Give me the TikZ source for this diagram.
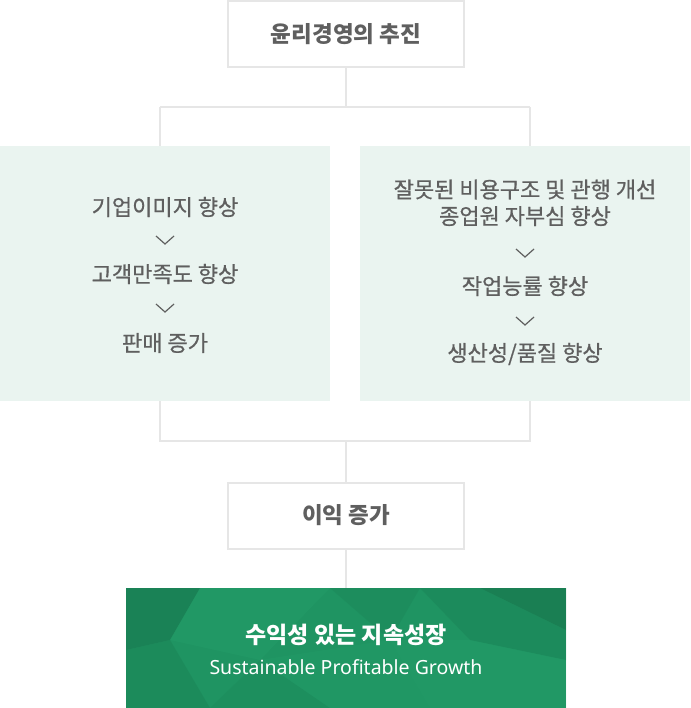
\documentclass[tikz,border=0pt]{standalone}
\usepackage{fontspec}
\setmainfont{Noto Sans CJK KR}
\newfontfamily\medfont[FakeBold=0.7]{Noto Sans CJK KR}
\newfontfamily\latinfont{Noto Sans}
\definecolor{linegray}{HTML}{E6E6E6}
\definecolor{panelbg}{HTML}{EAF4F0}
\definecolor{txtgray}{HTML}{5F5F5F}
\definecolor{gbase}{HTML}{1F9462}
\definecolor{gdark}{HTML}{166E48}
\definecolor{gmid}{HTML}{1B8457}
\definecolor{glight}{HTML}{25A06B}
\tikzset{
  conn/.style={draw=linegray, line width=2pt},
  whitebox/.style={draw=linegray, line width=2pt, fill=white, minimum width=236pt, minimum height=66pt, inner sep=0pt, text=txtgray, font=\fontsize{22.5}{26}\selectfont\bfseries},
  panel/.style={fill=panelbg, draw=none, minimum width=330pt, minimum height=255pt, inner sep=0pt},
  ptext/.style={text=txtgray, font=\medfont\fontsize{22}{26}\selectfont, inner sep=0pt, align=center},
  chev/.style={draw=txtgray, line width=1.2pt},
}
\begin{document}
\begin{tikzpicture}[x=1pt,y=-1pt]
\useasboundingbox (0,0) rectangle (690,708);
% panels
\node[panel] (lp) at (165,273.5) {};
\node[panel] (rp) at (525,273.5) {};
% top box
\node[whitebox] (top) at (346,34) {윤리경영의 추진};
% connectors top
\coordinate (tj) at (346,107);
\coordinate (tl) at (160,107);
\coordinate (tr) at (530,107);
\draw[conn] (top.south) -- (tj);
\draw[conn] (tl) -- (tr);
\draw[conn] (tl) -- (tl |- lp.north);
\draw[conn] (tr) -- (tr |- rp.north);
% left panel texts
\node[ptext] (l1) at (165,207) {기업이미지 향상};
\node[ptext] (l2) at (165,274) {고객만족도 향상};
\node[ptext] (l3) at (165,343) {판매 증가};
\draw[chev] (156,236) -- (165,244) -- (174,236);
\draw[chev] (156,304) -- (165,312) -- (174,304);
% right panel texts
\node[ptext] (r1) at (525,189.5) {잘못된 비용구조 및 관행 개선};
\node[ptext] (r1b) at (525,216) {종업원 자부심 향상};
\node[ptext] (r2) at (525,286) {작업능률 향상};
\node[ptext] (r3) at (525,354) {생산성/품질 향상};
\draw[chev] (516,249) -- (525,257) -- (534,249);
\draw[chev] (516,317) -- (525,325) -- (534,317);
% bottom connectors
\coordinate (bl) at (160,441);
\coordinate (br) at (530,441);
\coordinate (bj) at (346,441);
\draw[conn] (bl |- lp.south) -- (bl) -- (br) -- (br |- rp.south);
\node[whitebox] (mid) at (346,515.5) {이익 증가};
\draw[conn] (bj) -- (mid.north);
% green box
\node[fill=gbase, minimum width=440pt, minimum height=120pt, inner sep=0pt] (gb) at (346,648) {};
\draw[conn] (mid.south) -- (gb.north);
\begin{scope}
\clip (126,588) rectangle (566,708);
\fill[gdark, opacity=0.45] (126,588) -- (200,588) -- (170,640) -- (126,650) -- cycle;
\fill[gmid, opacity=0.55] (126,650) -- (170,640) -- (210,708) -- (126,708) -- cycle;
\fill[glight, opacity=0.35] (200,588) -- (330,588) -- (260,660) -- (170,640) -- cycle;
\fill[gmid, opacity=0.4] (330,588) -- (420,588) -- (390,640) -- cycle;
\fill[gdark, opacity=0.55] (480,588) -- (566,588) -- (566,630) -- cycle;
\fill[gmid, opacity=0.5] (420,588) -- (480,588) -- (566,630) -- (566,660) -- (470,640) -- cycle;
\fill[glight, opacity=0.35] (390,640) -- (470,640) -- (566,660) -- (566,708) -- (430,708) -- cycle;
\fill[gmid, opacity=0.3] (210,708) -- (260,660) -- (330,708) -- cycle;
\fill[glight, opacity=0.3] (260,660) -- (390,640) -- (430,708) -- (330,708) -- cycle;
\end{scope}
\node[text=white, font=\fontsize{23}{26}\selectfont\bfseries, inner sep=0pt] (g1) at (346,635) {수익성 있는 지속성장};
\node[text=white, font=\latinfont\fontsize{19.5}{22}\selectfont, inner sep=0pt] (g2) at (346,667) {Sustainable Profitable Growth};
\end{tikzpicture}
\end{document}
